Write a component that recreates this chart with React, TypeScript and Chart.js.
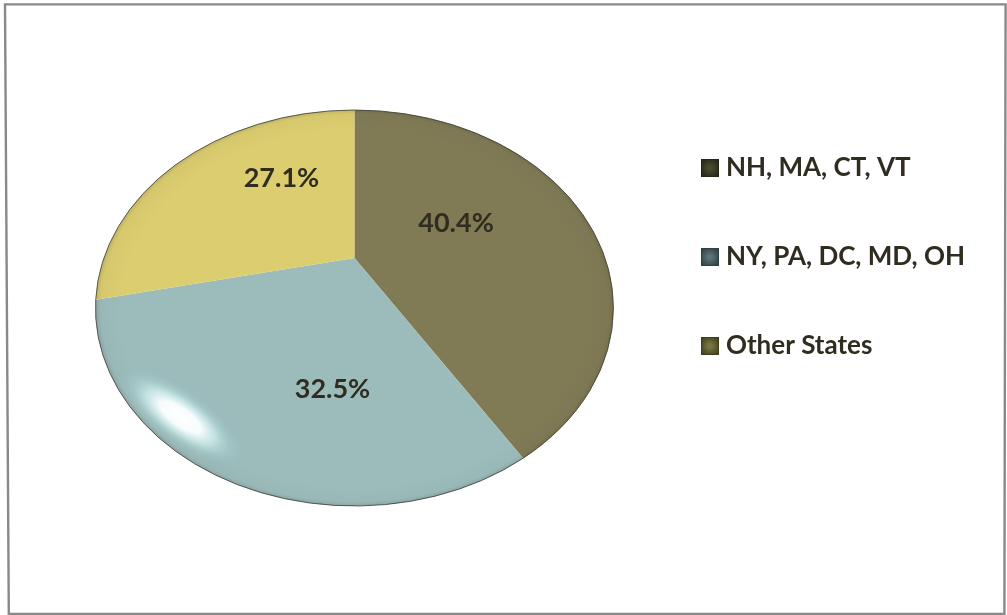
import React, { useEffect, useRef } from "react";
import { Chart, PieController, ArcElement, Legend, Tooltip } from "chart.js";

const categories = ["NH, MA, CT, VT", "NY, PA, DC, MD, OH", "Other States"];
const shares = [40.4, 32.5, 27.1];
const sliceColors = ["#807b55", "#9cbcbc", "#dccd6f"];
const swatchColors = [
  ["#4a4a30", "#25251a"],
  ["#5a7478", "#2f3f42"],
  ["#77743e", "#3f3e22"],
];
const TEXT = "#302c20";
const FONT = "Lato";

// Perspective of the tilted pie, as ratios of the chart's own radius
const X_STRETCH = 259 / 198;
const APEX_LIFT = 50 / 198;
const ANGLE_SQUEEZE = 0.84;
const warp = (a: number) => {
  const t = a + Math.PI / 2;
  return 2 * Math.atan2(ANGLE_SQUEEZE * Math.sin(t / 2), Math.cos(t / 2)) - Math.PI / 2;
};
const labelOffsets = [
  [0.513, -0.429],
  [-0.111, 0.409],
  [-0.369, -0.657],
];

class PerspectiveArc extends ArcElement {
  static id = "perspectiveArc";
  static defaults = { ...ArcElement.defaults };
  draw(ctx: CanvasRenderingContext2D) {
    const { x, y, startAngle, endAngle, outerRadius } = (this as any).getProps([
      "x", "y", "startAngle", "endAngle", "outerRadius",
    ]);
    const rx = outerRadius * X_STRETCH;
    const ry = outerRadius;
    const ax = x;
    const ay = y - outerRadius * APEX_LIFT;
    const a0 = warp(startAngle);
    const a1 = warp(endAngle);
    ctx.save();
    ctx.beginPath();
    ctx.moveTo(ax, ay);
    ctx.ellipse(x, y, rx, ry, 0, a0, a1);
    ctx.closePath();
    ctx.fillStyle = (this as any).options.backgroundColor;
    ctx.fill();
    ctx.clip();
    // soft rim shading
    ctx.save();
    ctx.translate(x, y);
    ctx.scale(rx, ry);
    const rim = ctx.createRadialGradient(0, 0, 0.9, 0, 0, 1);
    rim.addColorStop(0, "rgba(60,60,50,0)");
    rim.addColorStop(0.8, "rgba(60,60,50,0.04)");
    rim.addColorStop(1, "rgba(40,40,30,0.16)");
    ctx.fillStyle = rim;
    ctx.fillRect(-1, -1, 2, 2);
    ctx.restore();
    // specular highlight (only where it falls inside this slice)
    const hx = x - rx * 0.672;
    const hy = y + ry * 0.55;
    ctx.save();
    ctx.translate(hx, hy);
    ctx.rotate((36 * Math.PI) / 180);
    ctx.scale(74, 27);
    const glow = ctx.createRadialGradient(0, 0, 0, 0, 0, 1);
    glow.addColorStop(0, "rgba(255,255,255,1)");
    glow.addColorStop(0.32, "rgba(253,255,255,0.95)");
    glow.addColorStop(0.55, "rgba(222,250,250,0.62)");
    glow.addColorStop(0.78, "rgba(190,228,228,0.22)");
    glow.addColorStop(1, "rgba(170,210,210,0)");
    ctx.fillStyle = glow;
    ctx.fillRect(-1, -1, 2, 2);
    ctx.restore();
    ctx.restore();
    // dark outer edge
    ctx.beginPath();
    ctx.ellipse(x, y, rx, ry, 0, a0, a1);
    ctx.strokeStyle = "rgba(60,60,50,0.8)";
    ctx.lineWidth = 1;
    ctx.stroke();
  }
}

class PerspectivePie extends PieController {
  static id = "perspectivePie";
  static defaults = { ...PieController.defaults, dataElementType: "perspectiveArc" };
  static overrides = PieController.overrides;
}

const framePlugin = {
  id: "frame",
  beforeDraw(chart: any) {
    const { ctx } = chart;
    ctx.save();
    ctx.fillStyle = "#ffffff";
    ctx.fillRect(0, 0, chart.width, chart.height);
    ctx.strokeStyle = "#898989";
    ctx.lineWidth = 2.4;
    ctx.beginPath();
    ctx.moveTo(5, 4.4);
    ctx.lineTo(1005.6, 4.4);
    ctx.lineTo(1004.4, 614);
    ctx.lineTo(8.8, 614);
    ctx.closePath();
    ctx.stroke();
    ctx.restore();
  },
};

const percentPlugin = {
  id: "percentLabels",
  afterDatasetsDraw(chart: any) {
    const { ctx } = chart;
    const meta = chart.getDatasetMeta(0);
    ctx.save();
    ctx.font = `bold 27px ${FONT}`;
    ctx.fillStyle = TEXT;
    ctx.textAlign = "center";
    ctx.textBaseline = "middle";
    meta.data.forEach((arc: any, i: number) => {
      const r = arc.outerRadius;
      const text = `${chart.data.datasets[0].data[i].toFixed(1)}%`;
      ctx.fillText(text, arc.x + labelOffsets[i][0] * r, arc.y + labelOffsets[i][1] * r);
    });
    ctx.restore();
  },
};

function makeSwatch(inner: string, outer: string) {
  const c = document.createElement("canvas");
  c.width = 18;
  c.height = 18;
  const g = c.getContext("2d")!;
  g.fillStyle = outer;
  g.fillRect(0, 0, 18, 18);
  const grad = g.createRadialGradient(9, 9, 2, 9, 9, 11);
  grad.addColorStop(0, inner);
  grad.addColorStop(1, outer);
  g.fillStyle = grad;
  g.fillRect(1, 1, 16, 16);
  return c;
}

export default function App() {
  const ref = useRef<HTMLCanvasElement | null>(null);
  useEffect(() => {
    Chart.register(PieController, PerspectiveArc as any, PerspectivePie as any, Legend, Tooltip);
    const swatches = swatchColors.map(([a, b]) => makeSwatch(a, b));
    const chart = new Chart(ref.current!, {
      type: "perspectivePie" as any,
      data: {
        labels: categories,
        datasets: [{ data: shares, backgroundColor: sliceColors, borderWidth: 0, radius: 198 }],
      },
      plugins: [framePlugin, percentPlugin],
      options: {
        responsive: false,
        animation: false,
        layout: { padding: { left: 65, right: 32, top: 92, bottom: 91 } },
        plugins: {
          tooltip: { enabled: false },
          legend: {
            position: "right",
            align: "start",
            labels: {
              font: { family: FONT, size: 26, weight: "bold" },
              color: TEXT,
              padding: 63,
              boxWidth: 6,
              boxHeight: 18,
              usePointStyle: true,
              generateLabels: (c: any) =>
                c.data.labels.map((text: string, i: number) => ({
                  text,
                  index: i,
                  pointStyle: swatches[i],
                  fontColor: TEXT,
                  fillStyle: "transparent",
                  strokeStyle: "transparent",
                  lineWidth: 0,
                  hidden: false,
                })),
            },
          },
        },
      } as any,
    });
    return () => chart.destroy();
  }, []);
  return (
    <div style={{ position: "fixed", left: 0, top: 0, width: 1007, height: 615 }}>
      <canvas ref={ref} width={1007} height={615} style={{ display: "block" }} />
    </div>
  );
}
